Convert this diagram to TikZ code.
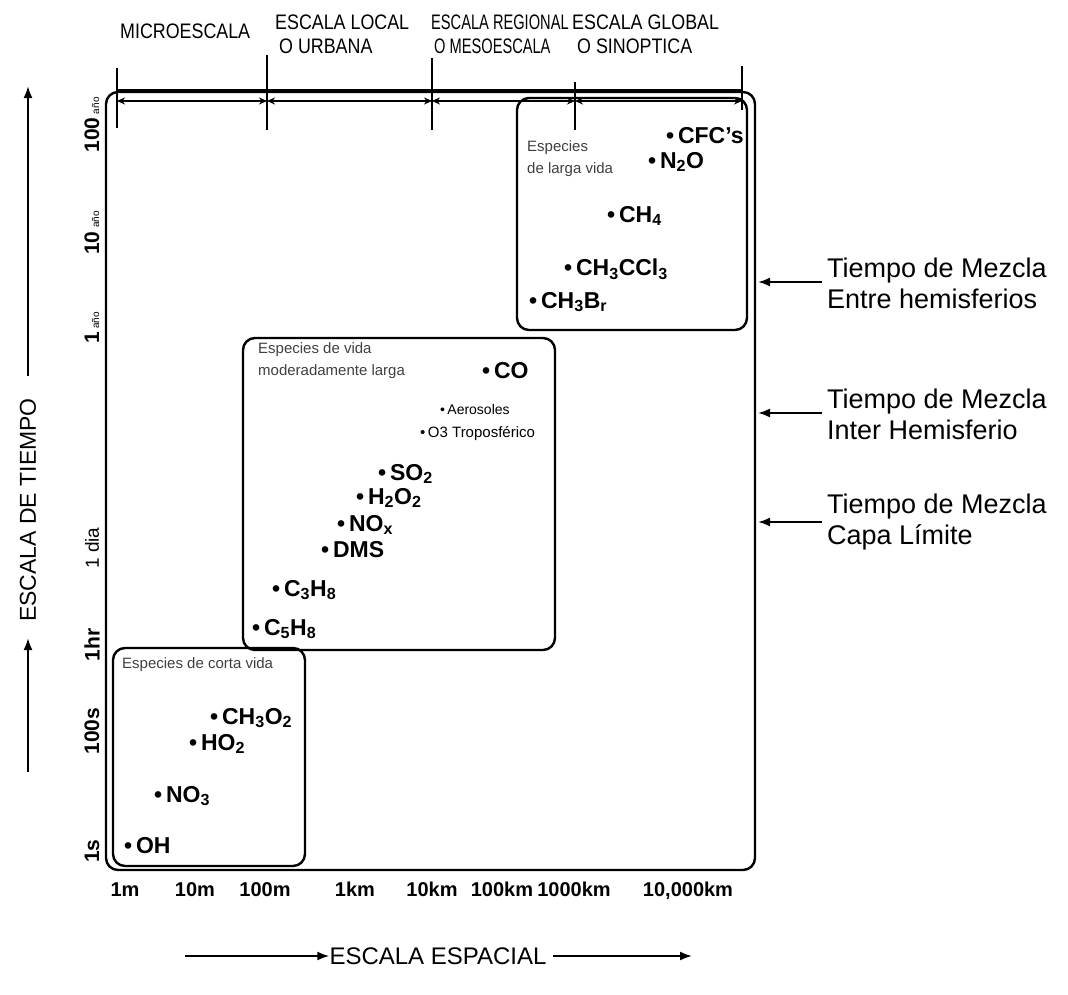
\documentclass[tikz,border=0pt]{standalone}
\usepackage{fontspec}
\setmainfont{Liberation Sans}
\newfontfamily\narrowsans{Liberation Sans}[FakeStretch=0.85]
\usetikzlibrary{arrows.meta}
\begin{document}
\begin{tikzpicture}[x=1pt,y=-1pt,
  frame/.style={line width=2.4pt, rounded corners=12pt},
  tick/.style={line width=2pt},
  band/.style={line width=1.8pt},
  bandarrow/.style={line width=1.8pt, {Stealth[length=8pt,width=7pt]}-{Stealth[length=8pt,width=7pt]}},
  axarrow/.style={line width=2pt, -{Latex[length=12pt,width=9pt]}},
  toplab/.style={font=\narrowsans\fontsize{21}{23}\selectfont, anchor=west, inner sep=0pt},
  sp/.style={font=\fontsize{23}{25}\selectfont\bfseries, anchor=west, inner sep=0pt},
  spsmall/.style={font=\fontsize{15}{17}\selectfont, anchor=west, inner sep=0pt},
  grp/.style={font=\fontsize{15}{22}\selectfont, anchor=north west, align=left, inner sep=0pt, text=black!75},
  ylab/.style={font=\fontsize{21}{21}\selectfont\bfseries, rotate=90, inner sep=0pt},
  xlab/.style={font=\fontsize{20}{20}\selectfont\bfseries, inner sep=0pt, anchor=base},
  mix/.style={font=\fontsize{27}{31}\selectfont, anchor=west, align=left, inner sep=0pt},
  ttl/.style={font=\fontsize{24}{24}\selectfont, inner sep=0pt}
]
\useasboundingbox (0,0) rectangle (1068,994);

% outer frame and species boxes
\draw[frame] (106,92) rectangle (755,870);
\draw[frame] (517,98) rectangle (747,330);
\draw[frame] (243,338) rectangle (555,650);
\draw[frame] (113,648) rectangle (305,866);

% scale ticks along the top
\coordinate (t1) at (117,101);
\coordinate (t2) at (267,101);
\coordinate (t3) at (432,101);
\coordinate (t4) at (575,101);
\coordinate (t5) at (742,101);
\draw[tick] (117,68) -- (117,128);
\draw[tick] (267,55) -- (267,130);
\draw[tick] (432,58) -- (432,130);
\draw[tick] (575,82) -- (575,130);
\draw[tick] (742,66) -- (742,110);
\draw[band] (117,90) -- (742,90);
\draw[bandarrow] (t1) -- (t2);
\draw[bandarrow] (t2) -- (t3);
\draw[bandarrow] (t3) -- (t4);
\draw[bandarrow] (t4) -- (t5);

% top labels
\node[toplab] (micro) at (120,31) {MICROESCALA};
\node[toplab] (loc1) at (275,22) {ESCALA LOCAL};
\node[toplab] (loc2) at (279,46) {O URBANA};
\node[toplab] (reg1) at (431,22) {\scalebox{0.82}[1]{ESCALA REGIONAL}};
\node[toplab] (reg2) at (434,46) {\scalebox{0.82}[1]{O MESOESCALA}};
\node[toplab] (glo1) at (572,22) {ESCALA GLOBAL};
\node[toplab] (glo2) at (577,46) {O SINOPTICA};

% time axis labels
\node[ylab] (y100a) at (92,125) {100\,{\mdseries\fontsize{10}{10}\selectfont año}};
\node[ylab] (y10a) at (92,233) {10\,{\mdseries\fontsize{10}{10}\selectfont año}};
\node[ylab] (y1a) at (92,328) {1\,{\mdseries\fontsize{10}{10}\selectfont año}};
\node[ylab,font=\fontsize{19}{19}\selectfont] (y1d) at (92,548) {1 dia};
\node[ylab] (y1h) at (92,645) {1hr};
\node[ylab] (y100s) at (92,731) {100s};
\node[ylab] (y1s) at (92,851) {1s};

% space axis labels
\node[xlab] (x1) at (125,896) {1m};
\node[xlab] (x2) at (195,896) {10m};
\node[xlab] (x3) at (265,896) {100m};
\node[xlab] (x4) at (355,896) {1km};
\node[xlab] (x5) at (432,896) {10km};
\node[xlab] (x6) at (502,896) {100km};
\node[xlab] (x7) at (574,896) {1000km};
\node[xlab] (x8) at (688,896) {10,000km};

% axis titles
\node[ttl] (espacial) at (438,956) {ESCALA ESPACIAL};
\coordinate (ea0) at (185,956);
\coordinate (ea1) at (553,956);
\coordinate (ea2) at (692,956);
\draw[axarrow] (ea0) -- (espacial.west);
\draw[axarrow] (ea1) -- (ea2);
\node[ttl, rotate=90, font=\fontsize{23}{23}\selectfont] (tiempo) at (28,510) {ESCALA DE TIEMPO};
\coordinate (ta0) at (28,376);
\coordinate (ta1) at (28,86);
\coordinate (tb0) at (28,772);
\coordinate (tb1) at (28,638);
\draw[axarrow] (ta0) -- (ta1);
\draw[axarrow] (tb0) -- (tb1);

% mixing time labels
\node[mix] (m1) at (827,283) {Tiempo de Mezcla\\Entre hemisferios};
\node[mix] (m2) at (827,414) {Tiempo de Mezcla\\Inter Hemisferio};
\node[mix] (m3) at (827,522) {Tiempo de Mezcla\\Capa Límite};
\coordinate (m1a) at (822,282);
\coordinate (m1b) at (758,282);
\coordinate (m2a) at (822,413);
\coordinate (m2b) at (758,413);
\coordinate (m3a) at (822,522);
\coordinate (m3b) at (758,522);
\draw[axarrow] (m1a) -- (m1b);
\draw[axarrow] (m2a) -- (m2b);
\draw[axarrow] (m3a) -- (m3b);

% long-lived species
\node[grp] (glong) at (527,140) {Especies\\de larga vida};
\node[sp] (cfc) at (666,136) {\textbullet\,CFC's};
\node[sp] (n2o) at (648,162) {\textbullet\,N\textsubscript{2}O};
\node[sp] (ch4) at (607,216) {\textbullet\,CH\textsubscript{4}};
\node[sp] (ch3ccl3) at (564,269) {\textbullet\,CH\textsubscript{3}CCl\textsubscript{3}};
\node[sp] (ch3br) at (529,302) {\textbullet\,CH\textsubscript{3}B\textsubscript{r}};

% moderately long-lived species
\node[grp] (gmod) at (258,342) {Especies de vida\\moderadamente larga};
\node[sp] (co) at (482,371) {\textbullet\,CO};
\node[spsmall,font=\fontsize{14}{16}\selectfont] (aer) at (440,409) {\textbullet\,Aerosoles};
\node[spsmall] (o3) at (420,434) {\textbullet\,O3 Troposférico};
\node[sp] (so2) at (378,474) {\textbullet\,SO\textsubscript{2}};
\node[sp] (h2o2) at (356,498) {\textbullet\,H\textsubscript{2}O\textsubscript{2}};
\node[sp] (nox) at (337,525) {\textbullet\,NO\textsubscript{x}};
\node[sp] (dms) at (321,550) {\textbullet\,DMS};
\node[sp] (c3h8) at (272,590) {\textbullet\,C\textsubscript{3}H\textsubscript{8}};
\node[sp] (c5h8) at (252,629) {\textbullet\,C\textsubscript{5}H\textsubscript{8}};

% short-lived species
\node[grp] (gshort) at (122,657) {Especies de corta vida};
\node[sp] (ch3o2) at (210,718) {\textbullet\,CH\textsubscript{3}O\textsubscript{2}};
\node[sp] (ho2) at (189,744) {\textbullet\,HO\textsubscript{2}};
\node[sp] (no3) at (154,796) {\textbullet\,NO\textsubscript{3}};
\node[sp] (oh) at (124,846) {\textbullet\,OH};
\end{tikzpicture}
\end{document}
